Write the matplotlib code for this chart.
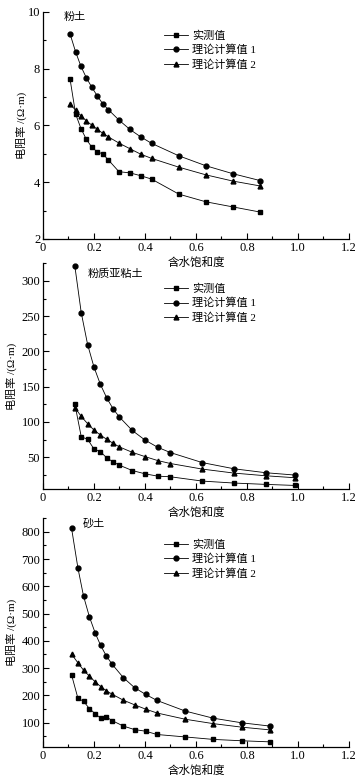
import matplotlib
matplotlib.use('Agg')
import matplotlib.pyplot as plt
from matplotlib.ticker import MultipleLocator

plt.rcParams['font.family'] = ['Liberation Serif', 'Noto Sans CJK SC']
plt.rcParams['axes.unicode_minus'] = False

LABELS = ['实测值', '理论计算值 1', '理论计算值 2']
MARKERS = ['s', 'o', '^']

# ── 粉土 ──
x1 = [0.106, 0.128, 0.149, 0.170, 0.192, 0.213, 0.234, 0.256,
      0.298, 0.341, 0.383, 0.426, 0.533, 0.639, 0.745, 0.851]
meas1 = [7.64, 6.40, 5.89, 5.51, 5.23, 5.07, 5.00, 4.79,
         4.37, 4.33, 4.23, 4.11, 3.58, 3.31, 3.13, 2.95]
th1_1 = [9.23, 8.59, 8.08, 7.68, 7.34, 7.04, 6.77, 6.56,
         6.19, 5.86, 5.60, 5.37, 4.93, 4.58, 4.30, 4.06]
th2_1 = [6.75, 6.54, 6.34, 6.16, 6.01, 5.86, 5.73, 5.60,
         5.38, 5.18, 4.99, 4.84, 4.53, 4.26, 4.04, 3.87]

# ── 粉质亚粘土 ──
x2 = [0.125, 0.150, 0.175, 0.200, 0.225, 0.250, 0.275, 0.300,
      0.350, 0.400, 0.450, 0.500, 0.625, 0.750, 0.875, 0.990]
meas2 = [125.2, 79.1, 75.4, 61.7, 58.0, 49.1, 43.4, 38.7,
         31.2, 26.5, 23.2, 22.3, 16.2, 13.4, 11.5, 10.0]
th1_2 = [320.7, 254.9, 209.8, 177.8, 153.4, 134.1, 118.6, 106.9,
         88.0, 74.4, 64.1, 56.6, 42.4, 33.6, 28.0, 24.7]
th2_2 = [120.5, 107.8, 97.6, 88.5, 81.5, 75.4, 69.8, 64.6,
         57.0, 50.9, 45.3, 41.1, 33.2, 27.5, 23.7, 20.9]

# ── 砂土 ──
x3 = [0.112, 0.137, 0.159, 0.182, 0.205, 0.226, 0.248, 0.271,
      0.315, 0.359, 0.403, 0.447, 0.558, 0.667, 0.779, 0.889]
meas3 = [275, 189, 178, 151, 132, 116, 121, 107,
         87, 74, 68, 56, 47, 38, 33, 29]
th1_3 = [813, 667, 564, 488, 428, 383, 345, 314,
         265, 228, 203, 181, 142, 116, 99, 87]
th2_3 = [351, 319, 292, 270, 249, 232, 217, 204,
         182, 165, 149, 135, 112, 96, 83, 73]

panels = [
    dict(name='粉土', x=x1, ys=[meas1, th1_1, th2_1], ylim=(2, 10),
         major=2, minor=1, rect=[0.1188, 0.694, 0.845, 0.2907],
         title_xy=(0.069, 0.978), leg_y=0.833, ylab_x=-0.052),
    dict(name='粉质亚粘土', x=x2, ys=[meas2, th1_2, th2_2], ylim=(5, 325),
         major=50, minor=25, rect=[0.1188, 0.3739, 0.845, 0.289],
         title_xy=(0.147, 0.955), leg_y=0.823, ylab_x=-0.085),
    dict(name='砂土', x=x3, ys=[meas3, th1_3, th2_3], ylim=(10, 850),
         major=100, minor=50, rect=[0.1188, 0.0435, 0.845, 0.293],
         title_xy=(0.131, 0.976), leg_y=0.821, ylab_x=-0.085),
]

fig = plt.figure(figsize=(3.62, 7.81), dpi=100)
fig.patch.set_facecolor('white')

for p in panels:
    ax = fig.add_axes(p['rect'])
    ax.set_facecolor('none')
    for y, m, lab in zip(p['ys'], MARKERS, LABELS):
        ax.plot(p['x'], y, color='black', lw=0.6, marker=m, ms=3.5,
                mfc='black', mec='black', label=lab)
    ax.set_xlim(0, 1.2)
    ax.set_ylim(*p['ylim'])
    ax.xaxis.set_major_locator(MultipleLocator(0.2))
    ax.xaxis.set_minor_locator(MultipleLocator(0.1))
    ax.yaxis.set_major_locator(MultipleLocator(p['major']))
    ax.yaxis.set_minor_locator(MultipleLocator(p['minor']))
    ax.xaxis.set_major_formatter(plt.FuncFormatter(
        lambda v, pos: '0' if abs(v) < 1e-9 else f'{v:.1f}'))
    for s in ['top', 'right']:
        ax.spines[s].set_visible(False)
    for s in ['left', 'bottom']:
        ax.spines[s].set_linewidth(0.9)
    ax.tick_params(which='both', direction='in', labelsize=9, width=0.8,
                   pad=2)
    ax.tick_params(which='major', length=4)
    ax.tick_params(which='minor', length=2.5)
    ax.set_xlabel('含水饱和度', fontsize=8.3, labelpad=2)
    ax.set_ylabel('电阻率 /(Ω·m)', fontsize=8, labelpad=2)
    ax.yaxis.set_label_coords(p['ylab_x'], 0.5)
    ax.text(p['title_xy'][0], p['title_xy'][1], p['name'], fontsize=8,
            transform=ax.transAxes, ha='left', va='center')
    ax.legend(loc='center left', bbox_to_anchor=(0.37, p['leg_y']),
              frameon=False, fontsize=8, numpoints=1, handlelength=2.2,
              handletextpad=0.3, labelspacing=0.35, borderpad=0.2)

fig.savefig('out.png', dpi=100, facecolor='white')
